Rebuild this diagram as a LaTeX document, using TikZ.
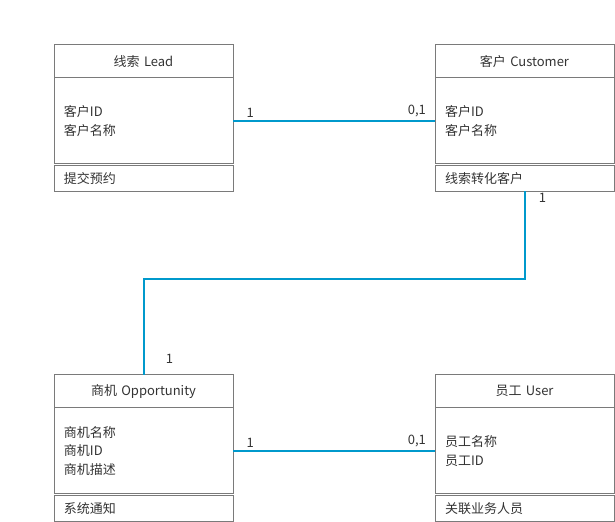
\documentclass[tikz,border=0pt]{standalone}
\usepackage{fontspec}
\setmainfont{Noto Sans CJK SC}
\usepackage{tikz}
\usetikzlibrary{positioning}
\definecolor{linkblue}{HTML}{0099CC}
\definecolor{boxgray}{HTML}{7A7A7A}
\definecolor{textgray}{HTML}{333333}

\begin{document}
\begin{tikzpicture}[x=0.75pt,y=-0.75pt,node distance=0pt,
        font=\fontsize{9.75pt}{13.2pt}\selectfont,text=textgray]
        \tikzstyle{part}=[draw=boxgray,line width=0.75pt,inner sep=0pt,outer sep=0pt,
                inner xsep=7.5pt,text width=119.25pt,
                execute at begin node={\setlength{\baselineskip}{13.9pt}}]
        \tikzstyle{head}=[part,minimum height=25.1pt,align=center]
        \tikzstyle{body}=[part,minimum height=64.5pt,align=left]
        \tikzstyle{foot}=[part,minimum height=19.5pt,align=left]
        \tikzstyle{link}=[draw=linkblue,line width=1.5pt]
        \tikzstyle{mult}=[inner sep=2pt]

        \useasboundingbox (0,0) rectangle (615,522);

        \node[head,anchor=north west] (leadH) at (54,44.5)   {线索 Lead};
        \node[body]  (leadB) [below=of leadH]                {客户ID\\客户名称};
        \node[foot]  (leadF) [below=0.9pt of leadB]          {提交预约};
        \node[head,anchor=north west] (custH) at (435,44.5)  {客户 Customer};
        \node[body]  (custB) [below=of custH]                {客户ID\\客户名称};
        \node[foot]  (custF) [below=0.9pt of custB]          {线索转化客户};
        \node[head,anchor=north west] (oppH) at (54,374.5)   {商机 Opportunity};
        \node[body]  (oppB)  [below=of oppH]                 {商机名称\\商机ID\\商机描述};
        \node[foot]  (oppF)  [below=0.9pt of oppB]           {系统通知};
        \node[head,anchor=north west] (userH) at (435,374.5) {员工 User};
        \node[body]  (userB) [below=of userH]                {员工名称\\员工ID};
        \node[foot]  (userF) [below=0.9pt of userB]          {关联业务人员};

        \draw[link] (leadB.east) -- node[mult,above,pos=0.085] {1}
                                    node[mult,above,pos=0.91]  {0,1} (custB.west);
        \draw[link] (oppB.east)  -- node[mult,above,pos=0.085] {1}
                                    node[mult,above,pos=0.91]  {0,1} (userB.west);
        \draw[link] (custF.south) -- node[mult,right=8pt,pos=0.08] {1} ++(0,87.5)
                    -| node[mult,right=14pt,pos=0.92] {1} (oppH.north);
\end{tikzpicture}
\end{document}
